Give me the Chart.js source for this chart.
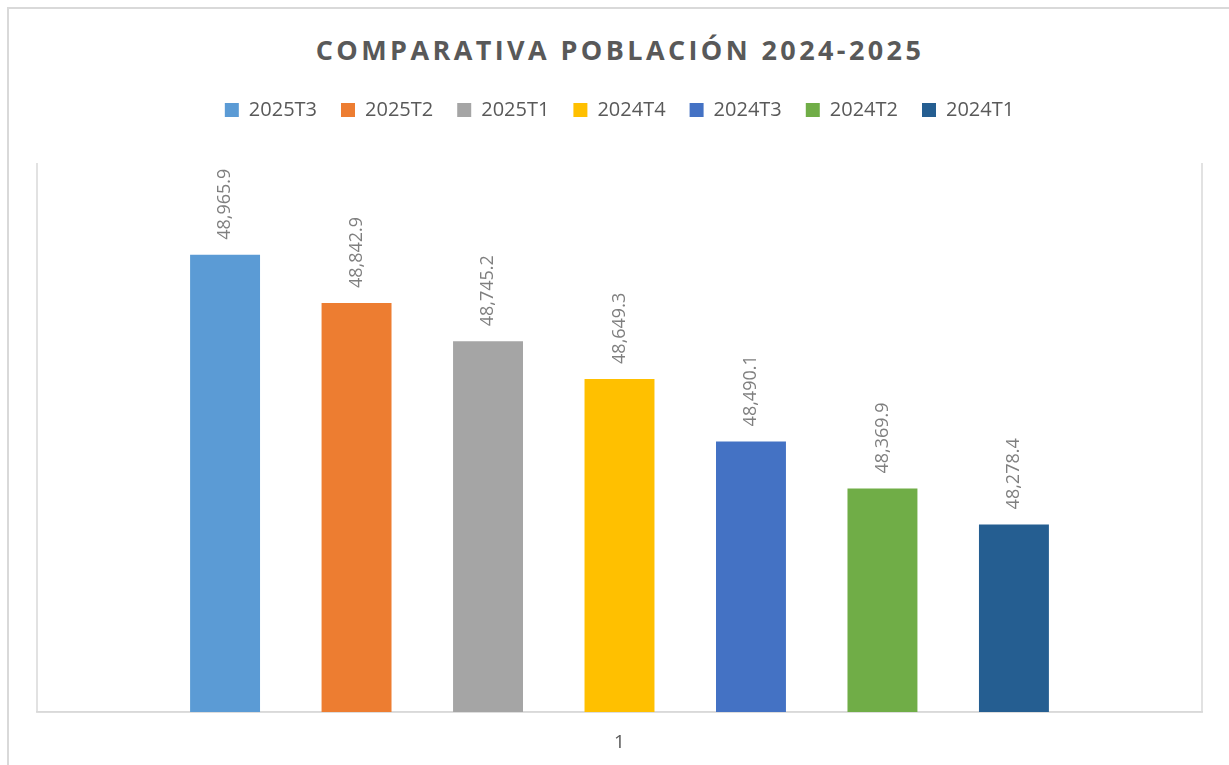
<!DOCTYPE html>
<html lang="es">
<head>
  <meta charset="UTF-8">
  <title>Comparativa población 2024-2025</title>
  <script src="https://cdn.jsdelivr.net/npm/chart.js"></script>
  <style>
    html, body {
      margin: 0;
      padding: 0;
      background: #ffffff;
      overflow: hidden;
      font-family: 'Open Sans', sans-serif;
    }

    .wrap {
      position: relative;
      width: 1229px;
      height: 765px;
    }

    .frame {
      position: absolute;
      left: 7px;
      top: 7px;
      width: 1240px;
      height: 800px;
      border: 2px solid #d9d9d9;
      pointer-events: none;
    }

    h1 {
      position: absolute;
      top: 31px;
      left: 0;
      width: 1240px;
      margin: 0;
      text-align: center;
      font-size: 27px;
      font-weight: 700;
      letter-spacing: 3.4px;
      color: #595959;
    }

    canvas {
      position: absolute;
      left: 0;
      top: 0;
    }
  </style>
</head>
<body>

  <div class="wrap">
    <h1>COMPARATIVA POBLACIÓN 2024-2025</h1>
    <canvas id="poblacion" width="1229" height="765"></canvas>
    <div class="frame"></div>
  </div>

  <script>
    // datos (miles de personas)
    const categories = ['1'];
    const periods = ['2025T3', '2025T2', '2025T1', '2024T4', '2024T3', '2024T2', '2024T1'];
    const population = [48965.9, 48842.9, 48745.2, 48649.3, 48490.1, 48369.9, 48278.4];
    const colors = ['#5b9bd5', '#ed7d31', '#a5a5a5', '#ffc000', '#4472c4', '#70ad47', '#255e91'];

    const fmt = v => v.toLocaleString('en-US', { minimumFractionDigits: 1, maximumFractionDigits: 1 });

    // un poco más de aire bajo la leyenda
    const legendGap = {
      id: 'legendGap',
      beforeInit(chart) {
        const fit = chart.legend.fit;
        chart.legend.fit = function () {
          fit.call(this);
          this.height += 33;
        };
      }
    };

    // borde del área de trazado (izq, der, abajo)
    const plotBorder = {
      id: 'plotBorder',
      beforeDatasetsDraw(chart) {
        const { ctx, chartArea: a } = chart;
        ctx.save();
        ctx.strokeStyle = '#d9d9d9';
        ctx.lineWidth = 1.5;
        ctx.beginPath();
        ctx.moveTo(a.left, a.top);
        ctx.lineTo(a.left, a.bottom);
        ctx.lineTo(a.right, a.bottom);
        ctx.lineTo(a.right, a.top);
        ctx.stroke();
        ctx.restore();
      }
    };

    // etiquetas de valor giradas sobre cada barra
    const valueLabels = {
      id: 'valueLabels',
      afterDatasetsDraw(chart) {
        const { ctx } = chart;
        ctx.save();
        ctx.font = '18px "Open Sans", sans-serif';
        ctx.fillStyle = '#7f7f7f';
        ctx.textAlign = 'left';
        ctx.textBaseline = 'middle';
        chart.data.datasets.forEach((ds, i) => {
          chart.getDatasetMeta(i).data.forEach((bar, j) => {
            ctx.save();
            ctx.translate(bar.x, bar.y - 15);
            ctx.rotate(-Math.PI / 2);
            ctx.fillText(fmt(ds.data[j]), 0, 0);
            ctx.restore();
          });
        });
        ctx.restore();
      }
    };

    const ctx = document.getElementById('poblacion').getContext('2d');
    const chart = new Chart(ctx, {
      type: 'bar',
      data: {
        labels: categories,
        datasets: periods.map((p, i) => ({
          label: p,
          data: [population[i]],
          backgroundColor: colors[i],
          borderWidth: 0
        }))
      },
      options: {
        responsive: false,
        animation: false,
        layout: {
          padding: { left: 37, right: 27, top: 76, bottom: 8 }
        },
        datasets: {
          bar: {
            categoryPercentage: 0.79,
            barPercentage: 0.532
          }
        },
        scales: {
          x: {
            grid: { display: false },
            border: { display: true, color: '#d9d9d9', width: 1.5 },
            ticks: {
              color: '#595959',
              font: { family: 'Open Sans', size: 19 },
              padding: 11
            },
            afterFit(scale) {
              scale.height = 45;
            }
          },
          y: {
            display: false,
            min: 47800,
            max: 49200
          }
        },
        plugins: {
          title: { display: false },
          tooltip: { enabled: false },
          legend: {
            position: 'top',
            labels: {
              color: '#595959',
              font: { family: 'Open Sans', size: 20 },
              boxWidth: 14,
              boxHeight: 14,
              padding: 24
            }
          }
        }
      },
      plugins: [legendGap, plotBorder, valueLabels]
    });
  </script>

</body>
</html>
